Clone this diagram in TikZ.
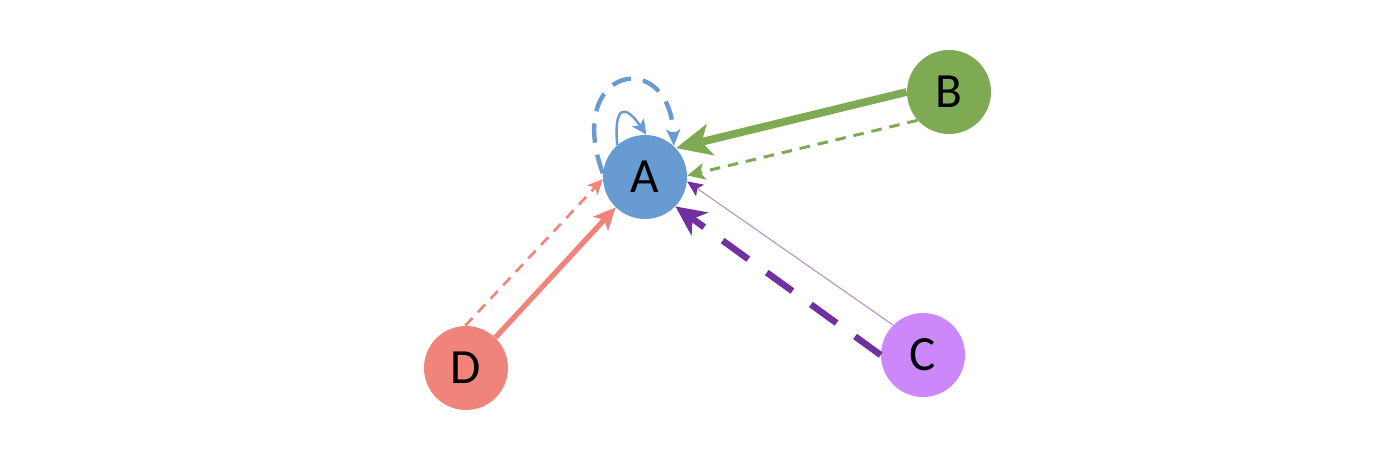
\documentclass[tikz,border=0pt]{standalone}
\usepackage{fontspec}
\setmainfont{Carlito}
\usetikzlibrary{arrows.meta}
\definecolor{colA}{RGB}{104,155,210}
\definecolor{colB}{RGB}{125,170,82}
\definecolor{colC}{RGB}{204,136,250}
\definecolor{colD}{RGB}{240,131,122}
\definecolor{colP}{RGB}{112,48,160}

\begin{document}
\begin{tikzpicture}[>=Stealth,
  vtx/.style={circle, minimum size=1.68cm, inner sep=0pt, font=\fontsize{28}{28}\selectfont}]

\useasboundingbox (0,0) rectangle (28,9.04);

% 四个结点
\node[vtx, fill=colA] (A) at (12.9,5.5) {A};
\node[vtx, fill=colB] (B) at (18.98,7.2) {B};
\node[vtx, fill=colC] (C) at (18.46,1.94) {C};
\node[vtx, fill=colD] (D) at (9.32,1.68) {D};

% B -> A
\draw[colB, line width=4.4pt, -{Stealth[length=20pt,width=18pt,inset=5pt]}] (B.180) -- (A.43);
\draw[colB, line width=1.7pt, dash pattern=on 6pt off 4.5pt,
      -{Stealth[length=10pt,width=9.5pt,inset=2.5pt]}] (B.222) -- (A.2);

% C -> A
\draw[colP!55, line width=0.6pt, -{Stealth[length=9pt,width=8pt,inset=2pt,color=colP]}] (C.135) -- (A.-6);
\draw[colP, line width=3.7pt, dash pattern=on 18pt off 13pt,
      -{Stealth[length=17pt,width=16pt,inset=5pt]}] (C.180) -- (A.-44);

% D -> A
\draw[colD, line width=3pt, -{Stealth[length=12.5pt,width=11.5pt,inset=3pt]}] (D.46) -- (A.226);
\draw[colD, line width=1.5pt, dash pattern=on 6pt off 4.5pt,
      -{Stealth[length=8.5pt,width=8pt,inset=2pt]}] (D.91) -- (A.183);

% A 的自环
\draw[colA, line width=1.4pt, -{Stealth[length=8.5pt,width=8pt,inset=2pt]}]
  (A.131) .. controls +(95:0.8) and +(125:0.75) .. (A.88);
\draw[colA, line width=2.5pt, dash pattern=on 11pt off 7pt,
      -{Stealth[length=9.5pt,width=8pt,inset=2.5pt]}]
  (A.175) .. controls +(110:2.3) and +(92:2.0) .. (A.47);

\end{tikzpicture}
\end{document}
